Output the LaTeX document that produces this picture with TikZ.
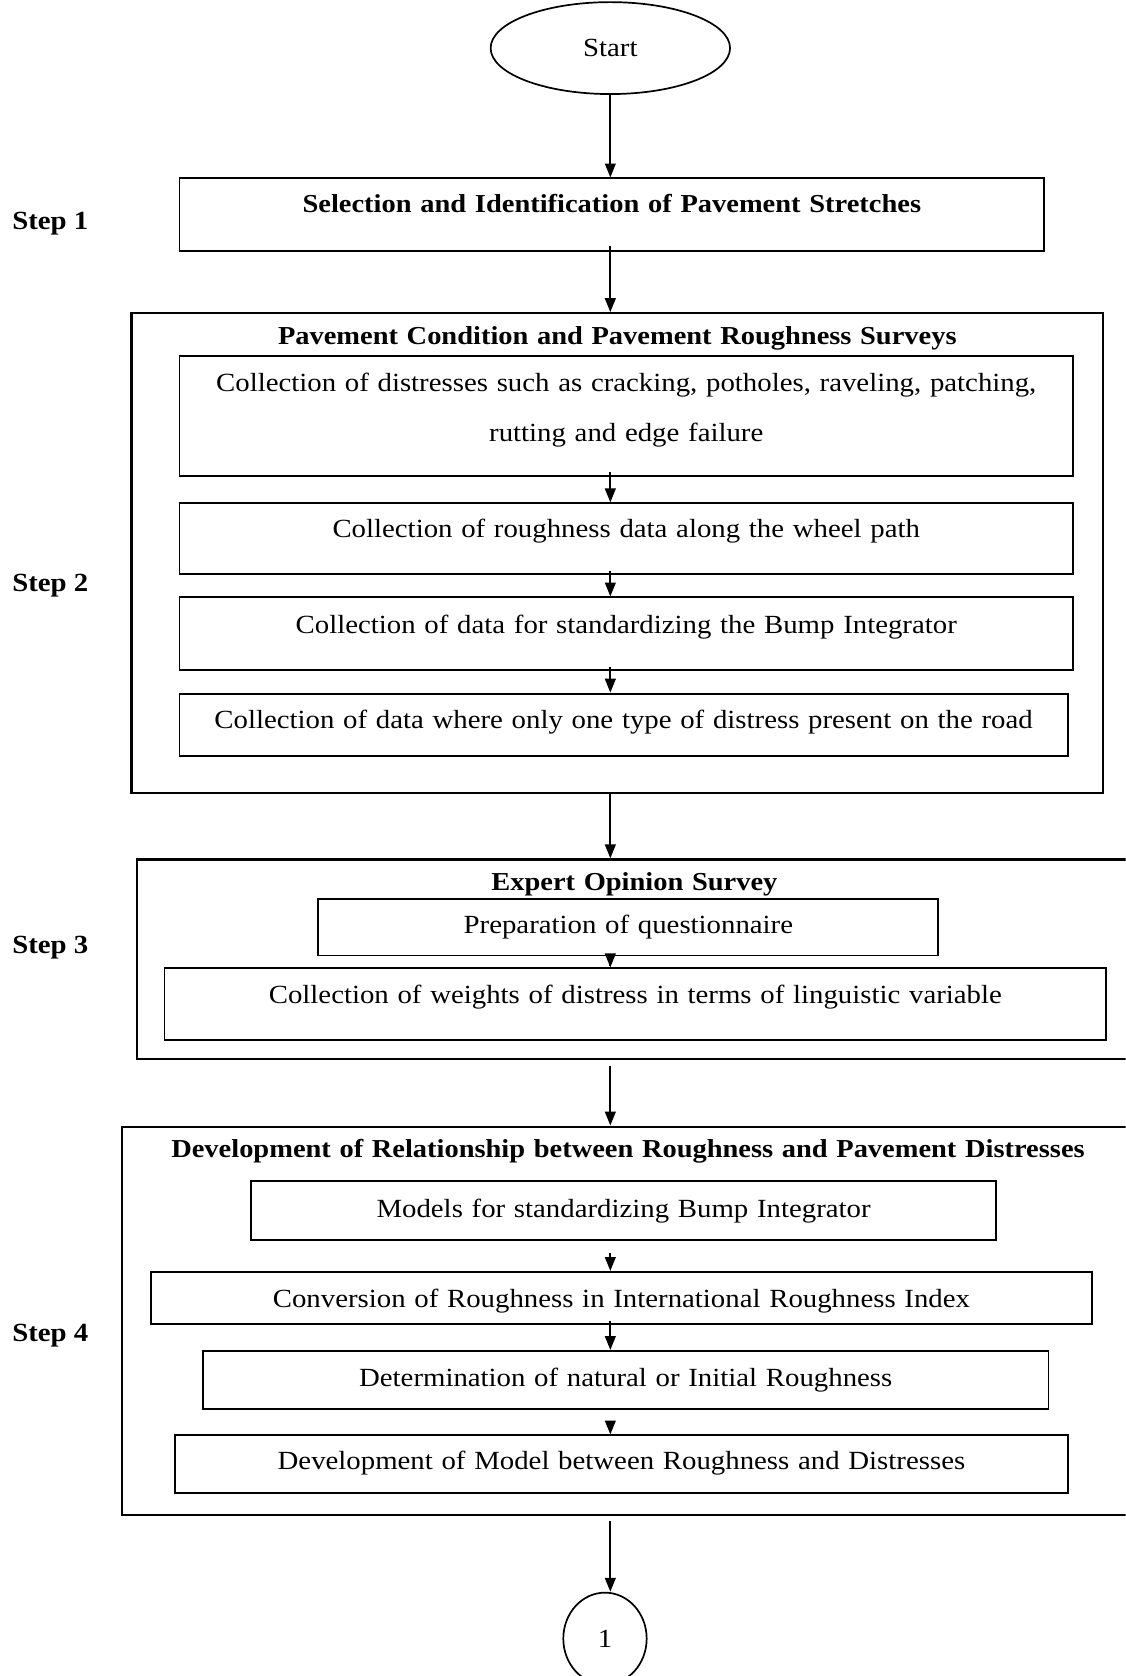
\documentclass[tikz,border=0pt]{standalone}
\usepackage{fontspec}
\setmainfont{Liberation Serif}[FakeStretch=1.10]
\usetikzlibrary{arrows.meta,shapes.geometric}
\begin{document}
\begin{tikzpicture}[x=1pt,y=-1pt,
  every node/.style={font=\fontsize{24.5}{47}\selectfont},
  stepbox/.style={draw, line width=1.8pt, anchor=north west, inner xsep=0pt, inner ysep=0pt, align=center},
  groupbox/.style={stepbox, line width=2.1pt, font=\bfseries\fontsize{24.2}{47}\selectfont},
  terminal/.style={draw, ellipse, line width=1.6pt, inner sep=0pt},
  flow/.style={-{Triangle[length=13pt,width=10pt]}, line width=1.8pt},
  steplabel/.style={anchor=base west, font=\bfseries\fontsize{24.5}{30}\selectfont},
]
\useasboundingbox (0,0) rectangle (1053,1568);
\clip (0,0) rectangle (1053,1568);

% start and continuation terminals
\node[terminal, minimum width=224pt, minimum height=86pt] (start) at (571,45) {Start};
\node[terminal, minimum width=78pt, minimum height=86pt] (one) at (566,1533) {1};

% step 1
\node[stepbox, text width=809pt, text height=32pt, text depth=36pt] (s1) at (167,166)
  {\bfseries\fontsize{24.2}{47}\selectfont Selection and Identification of Pavement Stretches};

% step 2
\node[groupbox, text width=909pt, text height=29pt, text depth=420pt] (g2) at (122,292)
  {Pavement Condition and Pavement Roughness Surveys};
\node[stepbox, text width=836pt, text height=33pt, text depth=79pt] (a) at (167,332)
  {Collection of distresses such as cracking, potholes, raveling, patching,\\ rutting and edge failure};
\node[stepbox, text width=836pt, text height=32pt, text depth=34pt] (b) at (167,470)
  {Collection of roughness data along the wheel path};
\node[stepbox, text width=836pt, text height=34pt, text depth=34pt] (c) at (167,558)
  {Collection of data for standardizing the Bump Integrator};
\node[stepbox, text width=831pt, text height=33pt, text depth=25pt] (d) at (167,648)
  {Collection of data where only one type of distress present on the road};

% step 3
\node[groupbox, text width=931pt, text height=29pt, text depth=158pt] (g3) at (127,803)
  {Expert Opinion Survey};
\node[stepbox, text width=580pt, text height=32pt, text depth=21pt] (e) at (297,840)
  {Preparation of questionnaire};
\node[stepbox, text width=881pt, text height=33pt, text depth=34pt] (f) at (153,905)
  {Collection of weights of distress in terms of linguistic variable};

% step 4
\node[groupbox, text width=947pt, text height=29pt, text depth=334pt] (g4) at (113,1053)
  {Development of Relationship between Roughness and Pavement Distresses};
\node[stepbox, text width=697pt, text height=34pt, text depth=21pt] (g) at (234,1104)
  {Models for standardizing Bump Integrator};
\node[stepbox, text width=881pt, text height=33pt, text depth=16pt] (h) at (140,1189)
  {Conversion of Roughness in International Roughness Index};
\node[stepbox, text width=791pt, text height=33pt, text depth=21pt] (i) at (189,1263)
  {Determination of natural or Initial Roughness};
\node[stepbox, text width=835pt, text height=32pt, text depth=22pt] (j) at (163,1342)
  {Development of Model between Roughness and Distresses};

% step labels
\node[steplabel] (l1) at (8,215) {Step 1};
\node[steplabel] (l2) at (8,553) {Step 2};
\node[steplabel] (l3) at (8,892) {Step 3};
\node[steplabel] (l4) at (8,1255) {Step 4};

% connectors
\draw[flow] (start.south) -- (start |- s1.north);
\draw[flow, shorten <=-6pt] (start |- s1.south) -- (start |- g2.north);
\draw[flow, shorten <=-4pt] (start |- a.south) -- (start |- b.north);
\draw[flow, shorten <=-4pt] (start |- b.south) -- (start |- c.north);
\draw[flow, shorten <=-4pt] (start |- c.south) -- (start |- d.north);
\draw[flow] (start |- g2.south) -- (start |- g3.north);
\draw[flow, shorten <=-9pt] (start |- e.south) -- (start |- f.north);
\draw[flow, shorten <=5pt] (start |- g3.south) -- (start |- g4.north);
\draw[flow, shorten <=11pt] (start |- g.south) -- (start |- h.north);
\draw[flow, shorten <=-4pt] (start |- h.south) -- (start |- i.north);
\draw[flow, shorten <=12pt] (start |- i.south) -- (start |- j.north);
\draw[flow, shorten <=5pt] (start |- g4.south) -- (start |- one.north);
\end{tikzpicture}
\end{document}
